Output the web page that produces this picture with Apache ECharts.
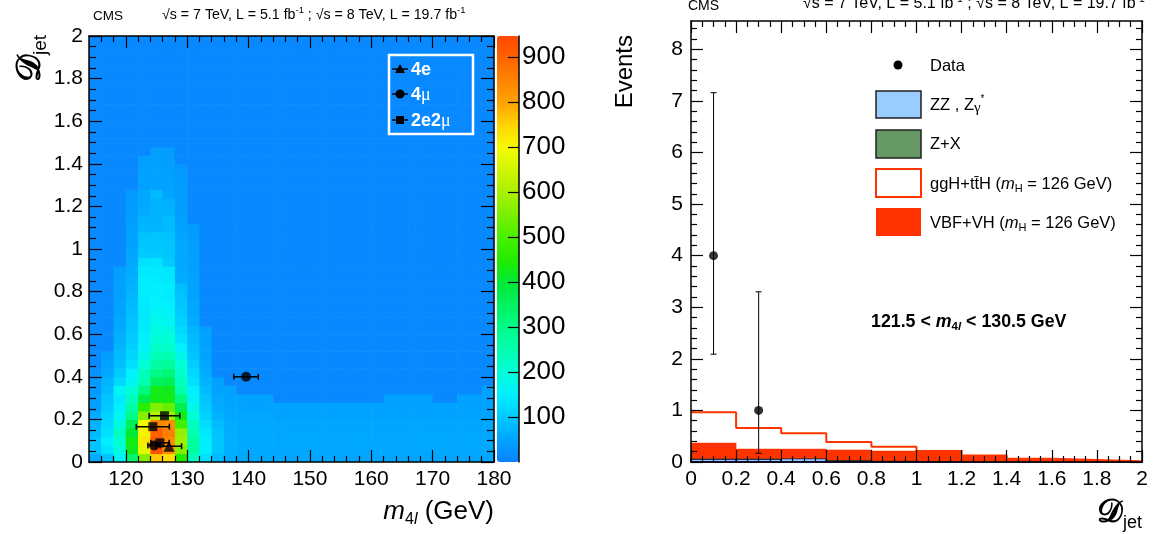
<!DOCTYPE html>
<html><head><meta charset="utf-8">
<script src="https://cdn.jsdelivr.net/npm/echarts@6/dist/echarts.min.js"></script>
<style>html,body{margin:0;padding:0;background:#fff}#c{width:1154px;height:534px}</style>
</head><body><div id="c"></div>
<script>
// ---------------- LEFT PANEL: D_jet vs m4l (2D histogram) ----------------
const massMin = 114, massMax = 180, massBinWidth = 2;
const djetMin = 0, djetMax = 2, djetBinWidth = 0.04;
const heatBackground = 10;
const colorMax = 947;
// one array per 2-GeV column (114-116, 116-118, ...), values per D_jet row from the bottom up;
// rows above the listed ones hold the background level
const heatColumns = [
  [60,90,90,80,70,60,45,45,35,35,25],
  [90,135,150,130,120,110,100,90,80,70,55,45,40],
  [160,190,210,230,190,165,150,140,165,120,100,85,80,75,65,60,55,50,48,46,45,44,42],
  [330,420,430,400,360,300,260,230,200,165,155,130,115,110,100,95,90,85,80,75,70,65,60,55,52,50,48,45,42,40,38,36],
  [560,680,720,710,700,560,460,380,310,250,230,200,175,160,150,145,140,140,140,145,145,145,140,130,100,95,90,75,70,60,55,52,50,48,45,42],
  [760,930,920,905,850,610,560,430,430,350,300,270,240,220,200,190,175,165,155,150,150,145,140,135,100,95,95,75,70,70,70,80,50,50,48,45,42],
  [735,830,840,855,830,590,530,430,420,360,320,280,250,220,200,185,170,160,150,145,145,140,138,100,95,95,90,80,80,70,65,50,48,46,44,42,40],
  [450,560,590,580,490,430,370,310,250,230,215,200,175,150,130,120,110,100,95,90,85,60,58,56,55,55,52,50,45,42,40,40,38,36,35],
  [230,270,270,250,230,200,180,160,150,130,120,105,95,85,80,75,60,55,55,50,50,48,46,45,44,42,40,38],
  [130,150,150,140,125,110,100,90,80,70,60,55,50,48,45,42],
  [80,95,95,90,80,70,60,55,50,45],
  [60,65,65,62,60,55,52,50,48],
  [55,58,58,56,55,53,50,48],
  [55,58,58,56,55,53,50,48],
  [55,58,58,56,55,53,50,48],
  [52,55,55,54,52,50,48],
  [52,55,55,54,52,50,48],
  [52,55,55,54,52,50,48],
  [52,55,55,54,52,50,48],
  [52,55,55,54,52,50,48],
  [52,55,55,54,52,50,48],
  [52,55,55,54,52,50,48],
  [52,55,55,54,52,50,48],
  [52,55,55,54,52,50,48],
  [52,55,55,54,52,50,48,46],
  [52,55,55,54,52,50,48,46],
  [52,55,55,54,52,50,48,46],
  [52,55,55,54,52,50,48,46],
  [52,55,55,54,52,50,48],
  [52,55,55,54,52,50,48],
  [52,55,55,54,52,50,48,46],
  [52,55,55,54,52,50,48,46],
  [52,55,55,54,52,50,48,46,45]
];
const massTicks = [120,130,140,150,160,170,180];
const colorTicks = [100,200,300,400,500,600,700,800,900];
// events: [m4l, D_jet, m4l uncertainty]
const events4e = [[127.04,0.074,2.05]];
const events4mu = [[139.6,0.400,2.0],[124.6,0.078,1.0]];
const events2e2mu = [[126.3,0.217,2.5],[124.4,0.166,2.7],[125.57,0.090,1.5]];

// ---------------- RIGHT PANEL: D_jet distribution ----------------
const djetEdges = [0,0.2,0.4,0.6,0.8,1.0,1.2,1.4,1.6,1.8,2.0];
const zzValues  = [0.060,0.060,0.070,0.035,0.020,0.015,0.010,0.008,0.006,0.004];
const zxValues  = [0.006,0.006,0.005,0.004,0.003,0.002,0.002,0.001,0.001,0.001];
const vbfValues = [0.300,0.185,0.175,0.195,0.190,0.185,0.110,0.050,0.030,0.008];
const gghValues = [0.600,0.410,0.305,0.155,0.085,0.010,0.005,0.003,0.002,0.001];
const dataX = [0.1, 0.3];
const dataY = [4, 1];
const dataErrLow = [1.91, 0.83];
const dataErrHigh = [3.16, 2.30];
const eventsTicks = [0,1,2,3,4,5,6,7,8];
const eventsMax = 8.55;

// ---------------- build ----------------
const FONT = "'Liberation Sans', Arial, Helvetica, sans-serif";
const palette = ['#0a82ff','#00a4ff','#00caff','#00f0ff','#00ffd8','#00ffb0','#00fb88','#00f260','#00e838','#22ec00',
                 '#48f000','#78f000','#a8f000','#d0f400','#f4fc00','#ffd400','#ffa400','#ff8400','#ff6400','#ff4800'];

const nRows = Math.round((djetMax - djetMin) / djetBinWidth);
const heatData = [];
heatColumns.forEach((col, i) => {
  const x0 = massMin + i * massBinWidth;
  for (let r = 0; r < nRows; r++) {
    heatData.push([x0, djetMin + r * djetBinWidth, r < col.length ? col[r] : heatBackground]);
  }
});
const massMinor = [];
for (let v = massMin + 2; v < massMax; v += 2) if (v % 10 !== 0) massMinor.push(v);
const eventsMinor = [];
for (let k = 1; k * 0.2 < eventsMax; k++) if (k % 5 !== 0) eventsMinor.push(+(k * 0.2).toFixed(2));

const leftErr = [].concat(events4e, events4mu, events2e2mu);

function stackRects(values, base) {
  return values.map((v, i) => [djetEdges[i], djetEdges[i + 1], base[i], base[i] + v]);
}
const base0 = zzValues.map(() => 0);
const base1 = zzValues.slice();
const base2 = zzValues.map((v, i) => v + zxValues[i]);
const base3 = base2.map((v, i) => v + vbfValues[i]);
const gghTop = base3.map((v, i) => v + gghValues[i]);
const gghLine = gghTop.map((v, i) => [djetEdges[i], v]);
gghLine.push([djetEdges[djetEdges.length - 1], gghTop[gghTop.length - 1]]);
const dataPoints = dataX.map((x, i) => [x, dataY[i], dataY[i] - dataErrLow[i], dataY[i] + dataErrHigh[i]]);

function ax(o) {
  const a = {
    type: 'value', z: 10, gridIndex: o.grid, position: o.pos, min: o.min, max: o.max,
    splitLine: {show: false},
    axisLine: {show: o.line !== false, onZero: false, lineStyle: {color: '#000', width: 1.5}},
    axisTick: {show: !!o.tickLen, inside: true, length: o.tickLen || 0, lineStyle: {color: '#000', width: 1.2}},
    axisLabel: {show: !!o.labels, color: '#000', fontFamily: FONT, fontSize: o.fontSize || 20, margin: o.margin || 6},
    minorTick: {show: !!o.minor, splitNumber: o.minor || 5, length: o.minorLen || 6, lineStyle: {color: '#000', width: 1.2}}
  };
  if (o.interval) a.interval = o.interval;
  if (o.ticks) a.axisTick.customValues = o.ticks;
  if (o.labels && o.labels !== true) a.axisLabel.customValues = o.labels;
  if (o.show === false) a.show = false;
  return a;
}

function rectItem(fill, stroke, lw) {
  return function (params, api) {
    const p0 = api.coord([api.value(0), api.value(2)]);
    const p1 = api.coord([api.value(1), api.value(3)]);
    return {type: 'rect', shape: {x: p0[0], y: p1[1], width: p1[0] - p0[0], height: p0[1] - p1[1]},
      style: {fill: fill, stroke: stroke, lineWidth: lw}};
  };
}

const chart = echarts.init(document.getElementById('c'));
const txt = (o) => Object.assign({type: 'text', z: 50, silent: true}, o);
const sub = (fs, lh, extra) => Object.assign({fontSize: fs, lineHeight: lh, fontFamily: FONT}, extra || {});
const SCRIPT_FONT = "'DejaVu Serif', 'DejaVu Sans', serif";
const LEG = 16.5;

chart.setOption({
  animation: false,
  backgroundColor: '#fff',
  grid: [
    {left: 89, top: 36, width: 405, height: 426},
    {left: 691, top: 21, width: 451, height: 441},
    {left: 497, top: 36, width: 22, height: 426}
  ],
  xAxis: [
    ax({grid: 0, pos: 'bottom', min: massMin, max: massMax, ticks: massTicks, labels: massTicks, tickLen: 12, fontSize: 21, margin: 7}),
    ax({grid: 0, pos: 'top', min: massMin, max: massMax, ticks: massTicks, tickLen: 12}),
    ax({grid: 0, pos: 'bottom', min: massMin, max: massMax, ticks: massMinor, tickLen: 6, line: false}),
    ax({grid: 0, pos: 'top', min: massMin, max: massMax, ticks: massMinor, tickLen: 6, line: false}),
    ax({grid: 1, pos: 'bottom', min: 0, max: 2, interval: 0.2, tickLen: 12, minor: 4, minorLen: 6, labels: true, fontSize: 21, margin: 7}),
    ax({grid: 1, pos: 'top', min: 0, max: 2, interval: 0.2, tickLen: 12, minor: 4, minorLen: 6}),
    ax({grid: 2, pos: 'bottom', min: 0, max: 1, show: false})
  ],
  yAxis: [
    ax({grid: 0, pos: 'left', min: djetMin, max: djetMax, interval: 0.2, tickLen: 13, minor: 4, minorLen: 7, labels: true, fontSize: 21, margin: 6}),
    ax({grid: 0, pos: 'right', min: djetMin, max: djetMax, interval: 0.2, tickLen: 13, minor: 4, minorLen: 7}),
    ax({grid: 1, pos: 'left', min: 0, max: eventsMax, ticks: eventsTicks, labels: eventsTicks, tickLen: 12, fontSize: 21, margin: 8}),
    ax({grid: 1, pos: 'right', min: 0, max: eventsMax, ticks: eventsTicks, tickLen: 12}),
    ax({grid: 1, pos: 'left', min: 0, max: eventsMax, ticks: eventsMinor, tickLen: 6, line: false}),
    ax({grid: 1, pos: 'right', min: 0, max: eventsMax, ticks: eventsMinor, tickLen: 6, line: false}),
    ax({grid: 2, pos: 'right', min: 0, max: colorMax, ticks: colorTicks, labels: colorTicks, tickLen: 11, fontSize: 26, margin: 3})
  ],
  visualMap: {
    type: 'continuous', seriesIndex: 0, dimension: 2, min: 0, max: colorMax,
    calculable: false, hoverLink: false, left: 497, top: 36, itemWidth: 22, itemHeight: 426, padding: 0,
    inRange: {color: palette}
  },
  series: [
    {type: 'custom', xAxisIndex: 0, yAxisIndex: 0, silent: true, clip: true, z: 1,
     encode: {x: 0, y: 1},
     data: heatData,
     renderItem: function (params, api) {
       const x = api.value(0), y = api.value(1);
       const p0 = api.coord([x, y]);
       const p1 = api.coord([x + massBinWidth, y + djetBinWidth]);
       return {type: 'rect', shape: {x: p0[0], y: p1[1], width: p1[0] - p0[0] + 0.6, height: p0[1] - p1[1] + 0.6},
               style: {fill: api.visual('color')}};
     }},
    {type: 'custom', xAxisIndex: 0, yAxisIndex: 0, silent: true, z: 5, encode: {x: 0, y: 1},
     data: leftErr,
     renderItem: function (params, api) {
       const x = api.value(0), y = api.value(1), e = api.value(2);
       const a = api.coord([x - e, y]), b = api.coord([x + e, y]);
       const st = {stroke: '#000', lineWidth: 1.5};
       return {type: 'group', children: [
         {type: 'line', shape: {x1: a[0], y1: a[1], x2: b[0], y2: b[1]}, style: st},
         {type: 'line', shape: {x1: a[0], y1: a[1] - 3, x2: a[0], y2: a[1] + 3}, style: st},
         {type: 'line', shape: {x1: b[0], y1: b[1] - 3, x2: b[0], y2: b[1] + 3}, style: st}
       ]};
     }},
    {name: '4e', type: 'scatter', xAxisIndex: 0, yAxisIndex: 0, z: 6, symbol: 'triangle', symbolSize: 11,
     itemStyle: {color: '#000'}, data: events4e.map(d => [d[0], d[1]])},
    {name: '4μ', type: 'scatter', xAxisIndex: 0, yAxisIndex: 0, z: 6, symbol: 'circle', symbolSize: 10,
     itemStyle: {color: '#000'}, data: events4mu.map(d => [d[0], d[1]])},
    {name: '2e2μ', type: 'scatter', xAxisIndex: 0, yAxisIndex: 0, z: 6, symbol: 'rect', symbolSize: 9,
     itemStyle: {color: '#000'}, data: events2e2mu.map(d => [d[0], d[1]])},

    {name: 'ZZ', type: 'custom', xAxisIndex: 4, yAxisIndex: 2, silent: true, z: 2, encode: {x: [0, 1], y: [2, 3]},
     data: stackRects(zzValues, base0), renderItem: rectItem('#99ccff', '#000099', 1.5)},
    {name: 'Z+X', type: 'custom', xAxisIndex: 4, yAxisIndex: 2, silent: true, z: 2, encode: {x: [0, 1], y: [2, 3]},
     data: stackRects(zxValues, base1), renderItem: rectItem('#669966', '#003300', 1)},
    {name: 'VBF+VH', type: 'custom', xAxisIndex: 4, yAxisIndex: 2, silent: true, z: 2, encode: {x: [0, 1], y: [2, 3]},
     data: stackRects(vbfValues, base2), renderItem: rectItem('#ff3300', '#ff3300', 0.5)},
    {name: 'ggH+ttH', type: 'line', xAxisIndex: 4, yAxisIndex: 2, z: 3, step: 'end', symbol: 'none', silent: true,
     lineStyle: {color: '#ff3300', width: 2}, data: gghLine},
    {type: 'custom', xAxisIndex: 4, yAxisIndex: 2, silent: true, z: 4, encode: {x: 0, y: [2, 3]},
     data: dataPoints,
     renderItem: function (params, api) {
       const x = api.value(0);
       const lo = api.coord([x, api.value(2)]), hi = api.coord([x, api.value(3)]);
       const st = {stroke: '#000', lineWidth: 1};
       return {type: 'group', children: [
         {type: 'line', shape: {x1: lo[0], y1: lo[1], x2: hi[0], y2: hi[1]}, style: st},
         {type: 'line', shape: {x1: lo[0] - 3, y1: lo[1], x2: lo[0] + 3, y2: lo[1]}, style: st},
         {type: 'line', shape: {x1: hi[0] - 3, y1: hi[1], x2: hi[0] + 3, y2: hi[1]}, style: st}
       ]};
     }},
    {name: 'Data', type: 'scatter', xAxisIndex: 4, yAxisIndex: 2, z: 5, symbol: 'circle', symbolSize: 9,
     itemStyle: {color: '#000'}, data: dataPoints.map(d => [d[0], d[1]])}
  ],
  graphic: [
    // headers
    txt({x: 93, y: 16, style: {text: 'CMS', fontSize: 13.5, fontFamily: FONT, fill: '#000', verticalAlign: 'middle'}}),
    txt({x: 162, y: 15, style: {text: '{n|√s = 7 TeV, L = 5.1 fb}{p|-1}{n| ; √s = 8 TeV, L = 19.7 fb}{p|-1}', fill: '#000', verticalAlign: 'middle',
      rich: {n: sub(14.2, 19), p: sub(9.5, 9.5, {verticalAlign: 'top'})}}}),
    txt({x: 688, y: 6, style: {text: 'CMS', fontSize: 14, fontFamily: FONT, fill: '#000', verticalAlign: 'middle'}}),
    txt({x: 803, y: 4, style: {text: '{n|√s = 7 TeV, L = 5.1 fb}{p|-1}{n| ; √s = 8 TeV, L = 19.7 fb}{p|-1}', fill: '#000', verticalAlign: 'middle',
      rich: {n: sub(16, 20), p: sub(10.5, 10.5, {verticalAlign: 'top'})}}}),
    // left axis titles
    txt({x: 31, y: 35, rotation: Math.PI / 2, style: {text: '{d|𝒟}{s|jet}', fill: '#000', align: 'right', verticalAlign: 'middle',
      rich: {d: sub(34, 38, {fontFamily: SCRIPT_FONT, fontWeight: 'bold'}), s: sub(19, 19, {verticalAlign: 'bottom'})}}}),
    txt({x: 494, y: 512, style: {text: '{i|m}{s|4}{si|l}{n| (GeV)}', fill: '#000', align: 'right', verticalAlign: 'middle',
      rich: {i: sub(26, 31, {fontStyle: 'italic'}), s: sub(16, 16, {verticalAlign: 'bottom'}), si: sub(16, 16, {verticalAlign: 'bottom', fontStyle: 'italic'}), n: sub(26, 31)}}}),
    // right axis titles
    txt({x: 625, y: 35, rotation: Math.PI / 2, style: {text: 'Events', fontSize: 24, fontFamily: FONT, fill: '#000', align: 'right', verticalAlign: 'middle'}}),
    txt({x: 1142, y: 514, style: {text: '{d|𝒟}{s|jet}', fill: '#000', align: 'right', verticalAlign: 'middle',
      rich: {d: sub(32, 36, {fontFamily: SCRIPT_FONT, fontWeight: 'bold'}), s: sub(18, 18, {verticalAlign: 'bottom'})}}}),
    // mass window
    txt({x: 871, y: 322, style: {text: '{n|121.5 < }{i|m}{s|4}{si|l}{n| < 130.5 GeV}', fill: '#000', verticalAlign: 'middle',
      rich: {n: sub(17.8, 22, {fontWeight: 'bold'}), i: sub(17.8, 22, {fontWeight: 'bold', fontStyle: 'italic'}),
             s: sub(11.5, 11.5, {fontWeight: 'bold', verticalAlign: 'bottom'}), si: sub(11.5, 11.5, {fontWeight: 'bold', fontStyle: 'italic', verticalAlign: 'bottom'})}}}),
    // right legend
    {type: 'circle', z: 50, silent: true, shape: {cx: 898, cy: 65, r: 4.5}, style: {fill: '#000'}},
    txt({x: 930, y: 66, style: {text: 'Data', fontSize: LEG, fontFamily: FONT, fill: '#000', verticalAlign: 'middle'}}),
    {type: 'rect', z: 50, silent: true, shape: {x: 876, y: 91, width: 45, height: 27}, style: {fill: '#99ccff', stroke: '#222', lineWidth: 1.5}},
    txt({x: 930, y: 105, style: {text: '{n|ZZ , Z}{g|γ}{p|*}', fill: '#000', verticalAlign: 'middle',
      rich: {n: sub(LEG, 21), g: sub(15, 17, {verticalAlign: 'bottom', fontFamily: "'Liberation Serif', serif"}), p: sub(10, 10, {verticalAlign: 'top'})}}}),
    {type: 'rect', z: 50, silent: true, shape: {x: 876, y: 130, width: 45, height: 28}, style: {fill: '#669966', stroke: '#222', lineWidth: 1.5}},
    txt({x: 930, y: 144, style: {text: 'Z+X', fontSize: LEG, fontFamily: FONT, fill: '#000', verticalAlign: 'middle'}}),
    {type: 'rect', z: 50, silent: true, shape: {x: 876, y: 169, width: 45, height: 28}, style: {fill: '#fff', stroke: '#ff3300', lineWidth: 2}},
    txt({x: 930, y: 184, style: {text: '{n|ggH+tt\u0304H (}{i|m}{s|H}{n| = 126 GeV)}', fill: '#000', verticalAlign: 'middle',
      rich: {n: sub(LEG, 21), i: sub(LEG, 21, {fontStyle: 'italic'}), s: sub(11, 11, {verticalAlign: 'bottom'})}}}),
    {type: 'rect', z: 50, silent: true, shape: {x: 876, y: 208, width: 45, height: 28}, style: {fill: '#ff3300'}},
    txt({x: 930, y: 223, style: {text: '{n|VBF+VH (}{i|m}{s|H}{n| = 126 GeV)}', fill: '#000', verticalAlign: 'middle',
      rich: {n: sub(LEG, 21), i: sub(LEG, 21, {fontStyle: 'italic'}), s: sub(11, 11, {verticalAlign: 'bottom'})}}}),
    // left legend
    {type: 'rect', z: 50, silent: true, shape: {x: 389, y: 55, width: 84, height: 79}, style: {fill: 'none', stroke: '#fff', lineWidth: 2.5}},
    {type: 'line', z: 50, silent: true, shape: {x1: 392, y1: 69, x2: 408, y2: 69}, style: {stroke: '#000', lineWidth: 1.5}},
    {type: 'polygon', z: 51, silent: true, shape: {points: [[400, 64], [405, 73], [395, 73]]}, style: {fill: '#000'}},
    txt({x: 411, y: 70, style: {text: '4e', fontSize: 18, fontWeight: 'bold', fontFamily: FONT, fill: '#fff', verticalAlign: 'middle'}}),
    {type: 'line', z: 50, silent: true, shape: {x1: 392, y1: 94, x2: 408, y2: 94}, style: {stroke: '#000', lineWidth: 1.5}},
    {type: 'circle', z: 51, silent: true, shape: {cx: 400, cy: 94, r: 4.5}, style: {fill: '#000'}},
    txt({x: 411, y: 95, style: {text: '{b|4}{m|μ}', fill: '#fff', verticalAlign: 'middle',
      rich: {b: sub(18, 21, {fontWeight: 'bold'}), m: sub(18, 21, {fontFamily: "'Liberation Serif', serif"})}}}),
    {type: 'line', z: 50, silent: true, shape: {x1: 392, y1: 120, x2: 408, y2: 120}, style: {stroke: '#000', lineWidth: 1.5}},
    {type: 'rect', z: 51, silent: true, shape: {x: 396, y: 116, width: 8, height: 8}, style: {fill: '#000'}},
    txt({x: 411, y: 121, style: {text: '{b|2e2}{m|μ}', fill: '#fff', verticalAlign: 'middle',
      rich: {b: sub(18, 21, {fontWeight: 'bold'}), m: sub(18, 21, {fontFamily: "'Liberation Serif', serif"})}}})
  ]
});
</script></body></html>
